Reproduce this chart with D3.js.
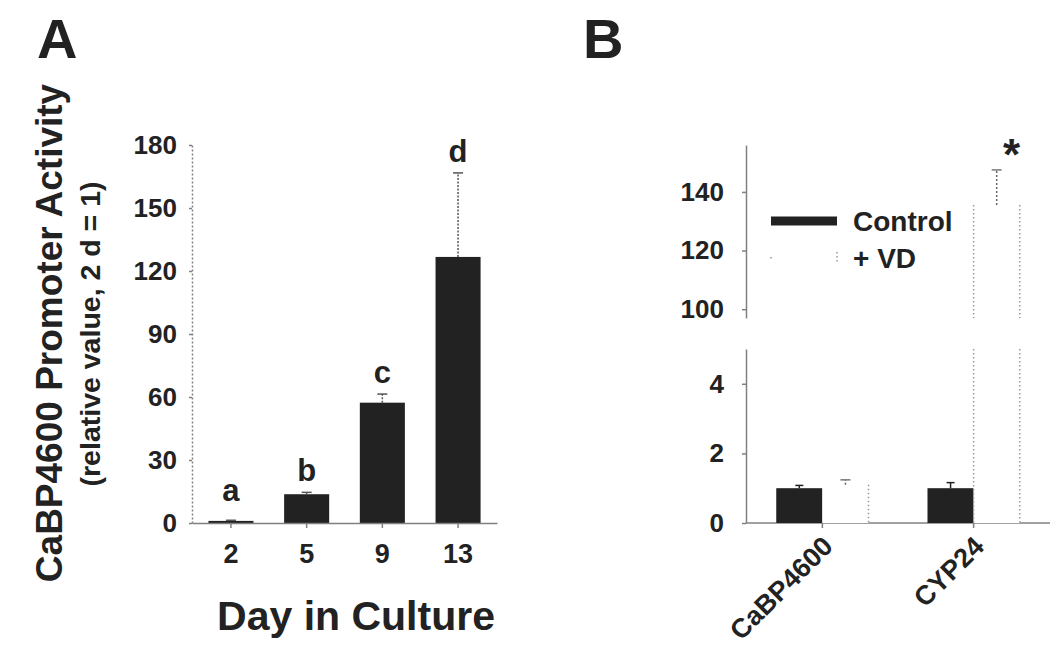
<!DOCTYPE html>
<html>
<head>
<meta charset="utf-8">
<script src="https://cdn.jsdelivr.net/npm/d3@7"></script>
<style>
  html, body { margin: 0; padding: 0; background: #fff; }
  svg { display: block; font-family: "Liberation Sans", Arial, sans-serif; }
</style>
</head>
<body>
<svg id="chart" width="1050" height="661"></svg>
<script>
// ---------- Panel A data ----------
const daysA = ['2', '5', '9', '13'];
const activityA = [1.0, 13.7, 57.3, 126.7];
const errA = [0.3, 0.9, 4.1, 40.0];
const lettersA = ['a', 'b', 'c', 'd'];
const ticksA = [0, 30, 60, 90, 120, 150, 180];

// ---------- Panel B data ----------
const genesB = ['CaBP4600', 'CYP24'];
const seriesB = ['Control', '+ VD'];
const controlB = [1.0, 1.0];
const controlErrB = [0.08, 0.16];
const vdB = [1.1, 135.5];
const vdErrB = [0.14, 12.0];
const ticksLowB = [0, 2, 4];
const ticksHighB = [100, 120, 140];

const ink = '#222';
const axisGray = '#808080';
const svg = d3.select('#chart');

function styleAxisText(g, size) {
  g.attr('font-family', '"Liberation Sans", Arial, sans-serif')
   .attr('font-size', size).attr('font-weight', 'bold');
  g.selectAll('text').attr('fill', ink);
  g.selectAll('line').attr('stroke', axisGray).attr('stroke-width', 1.5);
  g.select('.domain').attr('stroke', axisGray).attr('stroke-width', 1.5);
}

// =================== PANEL A ===================
const xA = d3.scaleBand().domain(daysA).range([192, 497]).paddingInner(0.405).paddingOuter(0.217);
const yA = d3.scaleLinear().domain([0, 180]).range([523, 145]);

svg.append('text').attr('x', 37).attr('y', 58).attr('font-size', 56).attr('font-weight', 'bold')
  .attr('fill', ink).text('A');

// y axis (dotted)
const gyA = svg.append('g').attr('transform', 'translate(192,0)')
  .call(d3.axisLeft(yA).tickValues(ticksA).tickFormat(d3.format('d')).tickSize(3).tickSizeOuter(0).tickPadding(12));
styleAxisText(gyA, 26);
gyA.select('.domain').attr('stroke-dasharray', '2,2');

// bars
const gA = svg.append('g');
gA.selectAll('rect.bar').data(daysA).join('rect')
  .attr('x', d => xA(d)).attr('width', xA.bandwidth())
  .attr('y', (d, i) => yA(activityA[i]))
  .attr('height', (d, i) => yA(0) - yA(activityA[i]))
  .attr('fill', ink);

// error bars
gA.selectAll('line.err').data(daysA).join('line')
  .attr('x1', d => xA(d) + xA.bandwidth() / 2).attr('x2', d => xA(d) + xA.bandwidth() / 2)
  .attr('y1', (d, i) => yA(activityA[i])).attr('y2', (d, i) => yA(activityA[i] + errA[i]))
  .attr('stroke', '#555').attr('stroke-width', 1.5).attr('stroke-dasharray', '2,1.5');
gA.selectAll('line.cap').data(daysA).join('line')
  .attr('x1', d => xA(d) + xA.bandwidth() / 2 - 5).attr('x2', d => xA(d) + xA.bandwidth() / 2 + 5)
  .attr('y1', (d, i) => yA(activityA[i] + errA[i])).attr('y2', (d, i) => yA(activityA[i] + errA[i]))
  .attr('stroke', '#555').attr('stroke-width', 1.5);

// letters
gA.selectAll('text.letter').data(daysA).join('text')
  .attr('x', d => xA(d) + xA.bandwidth() / 2)
  .attr('y', (d, i) => Math.min(yA(activityA[i] + errA[i]) - 11, yA(0) - 22))
  .attr('text-anchor', 'middle').attr('font-size', 31).attr('font-weight', 'bold').attr('fill', ink)
  .text((d, i) => lettersA[i]);

// x axis
const gxA = svg.append('g').attr('transform', 'translate(0,523)')
  .call(d3.axisBottom(xA).tickSize(5).tickSizeOuter(0).tickPadding(16));
styleAxisText(gxA, 27);

// titles
svg.append('text').attr('x', 356).attr('y', 630).attr('text-anchor', 'middle')
  .attr('font-size', 41).attr('font-weight', 'bold').attr('fill', ink).text('Day in Culture');
svg.append('text').attr('transform', 'translate(62,333) rotate(-90)').attr('text-anchor', 'middle')
  .attr('font-size', 37).attr('font-weight', 'bold').attr('fill', ink).text('CaBP4600 Promoter Activity');
svg.append('text').attr('transform', 'translate(100,334) rotate(-90)').attr('text-anchor', 'middle')
  .attr('font-size', 28.5).attr('font-weight', 'bold').attr('fill', ink).text('(relative value, 2 d = 1)');

// =================== PANEL B ===================
svg.append('text').attr('x', 583).attr('y', 58).attr('font-size', 56).attr('font-weight', 'bold')
  .attr('fill', ink).text('B');

const x0B = d3.scaleBand().domain(genesB).range([746, 1050]).paddingInner(0.39).paddingOuter(0.2);
const x1B = d3.scaleBand().domain(seriesB).range([0, x0B.bandwidth()]);
const yLo = d3.scaleLinear().domain([0, 5]).range([523, 349]);
const yHi = d3.scaleLinear().domain([97, 156]).range([318, 145]);

// axes
const gyLo = svg.append('g').attr('transform', 'translate(746,0)')
  .call(d3.axisLeft(yLo).tickValues(ticksLowB).tickFormat(d3.format('d')).tickSize(4).tickSizeOuter(0).tickPadding(18));
styleAxisText(gyLo, 26);
const gyHi = svg.append('g').attr('transform', 'translate(746,0)')
  .call(d3.axisLeft(yHi).tickValues(ticksHighB).tickFormat(d3.format('d')).tickSize(4).tickSizeOuter(0).tickPadding(18));
styleAxisText(gyHi, 26);

const gxB = svg.append('g').attr('transform', 'translate(0,523)')
  .call(d3.axisBottom(x0B).tickSize(5).tickSizeOuter(0).tickFormat(''));
styleAxisText(gxB, 26);
gxB.select('.domain').attr('d', 'M746,0H1050');

// rotated x labels
svg.selectAll('text.gene').data(genesB).join('text')
  .attr('transform', d => `translate(${x0B(d) + x0B.bandwidth() / 2 + 12},548) rotate(-45)`)
  .attr('text-anchor', 'end').attr('font-size', 27).attr('font-weight', 'bold').attr('fill', ink)
  .text(d => d);

const gB = svg.append('g');
const ctrlX = d => x0B(d) + x1B('Control');
const vdX = d => x0B(d) + x1B('+ VD');
const bw = x1B.bandwidth();

// control bars (lower section)
gB.selectAll('rect.ctrl').data(genesB).join('rect')
  .attr('x', d => ctrlX(d)).attr('width', bw)
  .attr('y', (d, i) => yLo(controlB[i])).attr('height', (d, i) => yLo(0) - yLo(controlB[i]))
  .attr('fill', ink);
gB.selectAll('line.cerr').data(genesB).join('line')
  .attr('x1', d => ctrlX(d) + bw / 2).attr('x2', d => ctrlX(d) + bw / 2)
  .attr('y1', (d, i) => yLo(controlB[i])).attr('y2', (d, i) => yLo(controlB[i] + controlErrB[i]))
  .attr('stroke', ink).attr('stroke-width', 1.5);
gB.selectAll('line.ccap').data(genesB).join('line')
  .attr('x1', d => ctrlX(d) + bw / 2 - 4).attr('x2', d => ctrlX(d) + bw / 2 + 4)
  .attr('y1', (d, i) => yLo(controlB[i] + controlErrB[i])).attr('y2', (d, i) => yLo(controlB[i] + controlErrB[i]))
  .attr('stroke', ink).attr('stroke-width', 1.5);

// VD bars: white with dotted gray side edges, drawn in both sections
const dotted = sel => sel.attr('stroke', '#999').attr('stroke-width', 1.5).attr('stroke-dasharray', '1.5,2.5');
genesB.forEach((g, i) => {
  const left = vdX(g), right = vdX(g) + bw;
  const v = vdB[i];
  // lower section
  const topLo = Math.max(yLo(Math.min(v, 5)), 349);
  gB.append('rect').attr('x', left).attr('width', bw).attr('y', topLo).attr('height', yLo(0) - topLo).attr('fill', '#fff');
  if (v < 5) {
    // left edge merges with the control bar
    gB.append('line').attr('x1', right).attr('x2', right).attr('y1', topLo).attr('y2', yLo(0)).call(dotted);
  } else {
    [left, right].forEach(xx => {
      gB.append('line').attr('x1', xx).attr('x2', xx).attr('y1', topLo).attr('y2', yLo(0)).call(dotted);
    });
  }
  // upper section
  if (v > yHi.domain()[0]) {
    const topHi = yHi(v);
    [left, right].forEach(xx => {
      gB.append('line').attr('x1', xx).attr('x2', xx).attr('y1', topHi).attr('y2', yHi.range()[0]).call(dotted);
    });
  }
  // error bar
  const sc = v < 5 ? yLo : yHi;
  const cx = left + bw / 2;
  gB.append('line').attr('x1', cx).attr('x2', cx).attr('y1', sc(v)).attr('y2', sc(v + vdErrB[i]))
    .attr('stroke', '#666').attr('stroke-width', 1.5).attr('stroke-dasharray', '2,2');
  gB.append('line').attr('x1', cx - 5).attr('x2', cx + 5).attr('y1', sc(v + vdErrB[i])).attr('y2', sc(v + vdErrB[i]))
    .attr('stroke', '#777').attr('stroke-width', 1.5);
  if (v > 5) {
    gB.append('text').attr('x', cx + 15).attr('y', sc(v + vdErrB[i])).attr('text-anchor', 'middle')
      .attr('font-size', 44).attr('font-weight', 'bold').attr('fill', ink).text('*');
  }
});

// legend
const leg = svg.append('g');
leg.append('line').attr('x1', 771).attr('x2', 837).attr('y1', 221).attr('y2', 221)
  .attr('stroke', ink).attr('stroke-width', 9);
leg.append('line').attr('x1', 837).attr('x2', 837).attr('y1', 252).attr('y2', 263).call(dotted);
leg.append('line').attr('x1', 771).attr('x2', 771).attr('y1', 257).attr('y2', 258.5)
  .attr('stroke', '#999').attr('stroke-width', 1.5);
leg.selectAll('text').data(seriesB).join('text')
  .attr('x', 853).attr('y', (d, i) => 231 + i * 37)
  .attr('font-size', 28).attr('font-weight', 'bold').attr('fill', ink).text(d => d);
</script>
</body>
</html>
